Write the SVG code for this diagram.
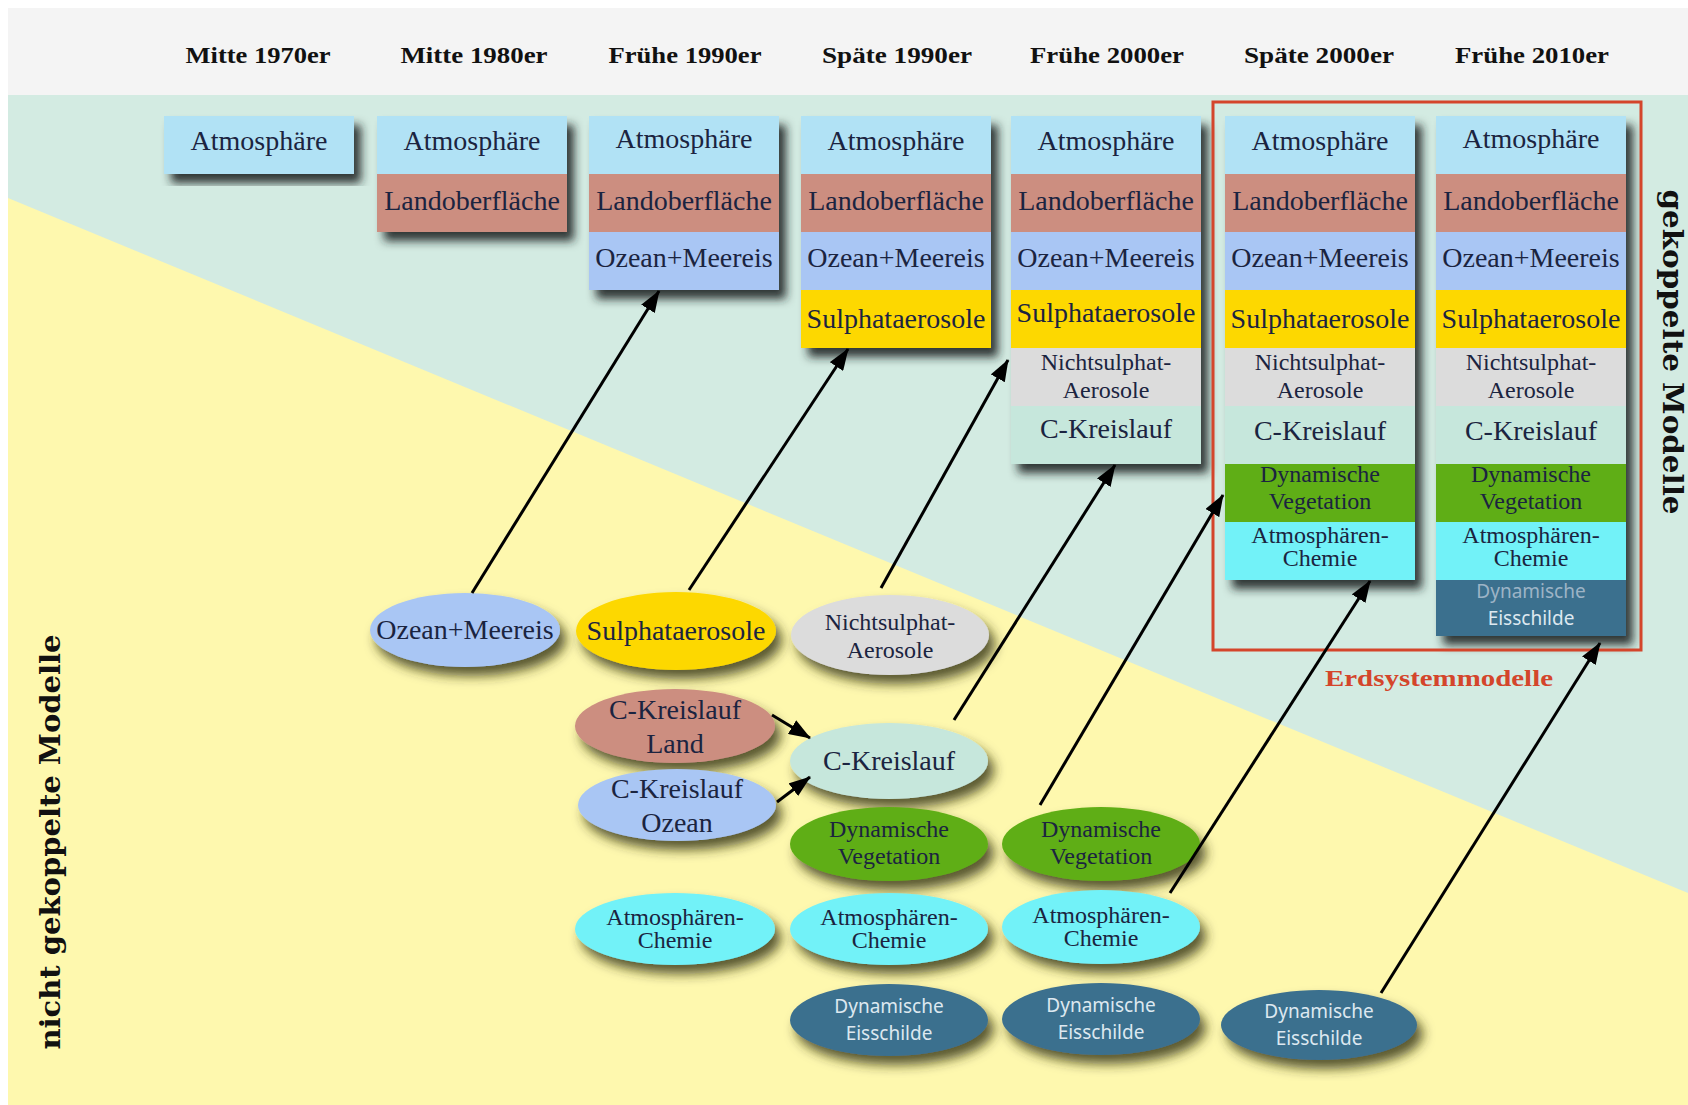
<svg xmlns="http://www.w3.org/2000/svg" width="1688" height="1105" viewBox="0 0 1688 1105">
<style>
.t{font-family:"Liberation Serif","Times New Roman",serif;fill:#1b2440;text-anchor:middle}
.l{font-size:28px}
.m{font-size:24px}
.s{font-size:24px}
.h{font-family:"Liberation Serif","Times New Roman",serif;font-weight:bold;font-size:24px;fill:#111;text-anchor:middle}
.v{font-family:"DejaVu Serif","Liberation Serif",serif;font-weight:bold;font-size:27px;fill:#111;text-anchor:middle}
.e{font-family:"Noto Sans","Liberation Sans",sans-serif;font-size:19px;fill:#dde8f0;text-anchor:middle}
.ef{fill:#9db4c6}
.atm{fill:#b1e2f5}.land{fill:#cc8e80}.oz{fill:#a9c6f4}.sul{fill:#fdd800}.nic{fill:#dcdcdc}
.ck{fill:#c6e7dc}.veg{fill:#5fae14}.chem{fill:#72f2f8}.eis{fill:#3b6f8e}
.col{filter:url(#sh)}
.ell{filter:url(#esh)}
.arr{stroke:#000;stroke-width:3;fill:none;marker-end:url(#ah)}
</style>
<defs>
<filter id="sh" x="-20%" y="-20%" width="140%" height="140%">
<feDropShadow dx="7" dy="9" stdDeviation="5" flood-color="#1a2020" flood-opacity="0.9"/>
</filter>
<filter id="esh" x="-20%" y="-30%" width="140%" height="160%">
<feDropShadow dx="6" dy="9" stdDeviation="6" flood-color="#2e2e0e" flood-opacity="0.8"/>
</filter>
<marker id="ah" markerWidth="22" markerHeight="16" refX="21" refY="8" orient="auto" markerUnits="userSpaceOnUse">
<path d="M0,0 L22,8 L0,16 z" fill="#000"/>
</marker>
</defs>

<rect x="0" y="0" width="1688" height="1105" fill="#ffffff"/>
<rect x="8" y="8" width="1680" height="87" fill="#f4f4f4"/>
<rect x="8" y="95" width="1680" height="1010" fill="#d3ebe2"/>
<polygon points="8,198 1688,893 1688,1105 8,1105" fill="#fef8ae"/>

<g id="headers">
<text class="h" x="258" y="63" textLength="145" lengthAdjust="spacingAndGlyphs">Mitte 1970er</text>
<text class="h" x="474" y="63" textLength="147" lengthAdjust="spacingAndGlyphs">Mitte 1980er</text>
<text class="h" x="685" y="63" textLength="153" lengthAdjust="spacingAndGlyphs">Frühe 1990er</text>
<text class="h" x="897" y="63" textLength="150" lengthAdjust="spacingAndGlyphs">Späte 1990er</text>
<text class="h" x="1107" y="63" textLength="154" lengthAdjust="spacingAndGlyphs">Frühe 2000er</text>
<text class="h" x="1319" y="63" textLength="150" lengthAdjust="spacingAndGlyphs">Späte 2000er</text>
<text class="h" x="1532" y="63" textLength="154" lengthAdjust="spacingAndGlyphs">Frühe 2010er</text>
</g>

<g id="side-labels">
<text class="v" transform="translate(1663,352) rotate(90)" textLength="325" lengthAdjust="spacingAndGlyphs">gekoppelte Modelle</text>
<text class="v" transform="translate(60,842) rotate(-90)" textLength="415" lengthAdjust="spacingAndGlyphs">nicht gekoppelte Modelle</text>
</g>

<g id="col-1970">
<rect class="col atm" x="164" y="116" width="190" height="58"/>
<text class="t l" x="259" y="150">Atmosphäre</text>
</g>

<g id="col-1980">
<g class="col"><rect class="atm" x="377" y="116" width="190" height="58"/><rect class="land" x="377" y="174" width="190" height="58"/></g>
<text class="t l" x="472" y="150">Atmosphäre</text>
<text class="t l" x="472" y="210">Landoberfläche</text>
</g>

<g id="col-1990a">
<g class="col"><rect class="atm" x="589" y="116" width="190" height="58"/><rect class="land" x="589" y="174" width="190" height="58"/><rect class="oz" x="589" y="232" width="190" height="58"/></g>
<text class="t l" x="684" y="148">Atmosphäre</text>
<text class="t l" x="684" y="210">Landoberfläche</text>
<text class="t l" x="684" y="267">Ozean+Meereis</text>
</g>

<g id="col-1990b">
<g class="col"><rect class="atm" x="801" y="116" width="190" height="58"/><rect class="land" x="801" y="174" width="190" height="58"/><rect class="oz" x="801" y="232" width="190" height="58"/><rect class="sul" x="801" y="290" width="190" height="58"/></g>
<text class="t l" x="896" y="150">Atmosphäre</text>
<text class="t l" x="896" y="210">Landoberfläche</text>
<text class="t l" x="896" y="267">Ozean+Meereis</text>
<text class="t l" x="896" y="328">Sulphataerosole</text>
</g>

<g id="col-2000a">
<g class="col"><rect class="atm" x="1011" y="116" width="190" height="58"/><rect class="land" x="1011" y="174" width="190" height="58"/><rect class="oz" x="1011" y="232" width="190" height="58"/><rect class="sul" x="1011" y="290" width="190" height="58"/><rect class="nic" x="1011" y="348" width="190" height="58"/><rect class="ck" x="1011" y="406" width="190" height="58"/></g>
<text class="t l" x="1106" y="150">Atmosphäre</text>
<text class="t l" x="1106" y="210">Landoberfläche</text>
<text class="t l" x="1106" y="267">Ozean+Meereis</text>
<text class="t l" x="1106" y="322">Sulphataerosole</text>
<text class="t m" x="1106" y="370">Nichtsulphat-</text>
<text class="t m" x="1106" y="398">Aerosole</text>
<text class="t l" x="1106" y="438">C-Kreislauf</text>
</g>

<g id="col-2000b">
<g class="col"><rect class="atm" x="1225" y="116" width="190" height="58"/><rect class="land" x="1225" y="174" width="190" height="58"/><rect class="oz" x="1225" y="232" width="190" height="58"/><rect class="sul" x="1225" y="290" width="190" height="58"/><rect class="nic" x="1225" y="348" width="190" height="58"/><rect class="ck" x="1225" y="406" width="190" height="58"/><rect class="veg" x="1225" y="464" width="190" height="58"/><rect class="chem" x="1225" y="522" width="190" height="58"/></g>
<text class="t l" x="1320" y="150">Atmosphäre</text>
<text class="t l" x="1320" y="210">Landoberfläche</text>
<text class="t l" x="1320" y="267">Ozean+Meereis</text>
<text class="t l" x="1320" y="328">Sulphataerosole</text>
<text class="t m" x="1320" y="370">Nichtsulphat-</text>
<text class="t m" x="1320" y="398">Aerosole</text>
<text class="t l" x="1320" y="440">C-Kreislauf</text>
<text class="t s" x="1320" y="482">Dynamische</text>
<text class="t s" x="1320" y="509">Vegetation</text>
<text class="t s" x="1320" y="543">Atmosphären-</text>
<text class="t s" x="1320" y="566">Chemie</text>
</g>

<g id="col-2010">
<g class="col"><rect class="atm" x="1436" y="116" width="190" height="58"/><rect class="land" x="1436" y="174" width="190" height="58"/><rect class="oz" x="1436" y="232" width="190" height="58"/><rect class="sul" x="1436" y="290" width="190" height="58"/><rect class="nic" x="1436" y="348" width="190" height="58"/><rect class="ck" x="1436" y="406" width="190" height="58"/><rect class="veg" x="1436" y="464" width="190" height="58"/><rect class="chem" x="1436" y="522" width="190" height="58"/><rect class="eis" x="1436" y="580" width="190" height="56"/></g>
<text class="t l" x="1531" y="148">Atmosphäre</text>
<text class="t l" x="1531" y="210">Landoberfläche</text>
<text class="t l" x="1531" y="267">Ozean+Meereis</text>
<text class="t l" x="1531" y="328">Sulphataerosole</text>
<text class="t m" x="1531" y="370">Nichtsulphat-</text>
<text class="t m" x="1531" y="398">Aerosole</text>
<text class="t l" x="1531" y="440">C-Kreislauf</text>
<text class="t s" x="1531" y="482">Dynamische</text>
<text class="t s" x="1531" y="509">Vegetation</text>
<text class="t s" x="1531" y="543">Atmosphären-</text>
<text class="t s" x="1531" y="566">Chemie</text>
<text class="e ef" x="1531" y="598">Dynamische</text>
<text class="e" x="1531" y="625">Eisschilde</text>
</g>

<g id="erdsystemmodelle">
<rect x="1213" y="102" width="428" height="548" fill="none" stroke="#d4452b" stroke-width="3"/>
<text x="1439" y="686" font-family="Liberation Serif, serif" font-weight="bold" font-size="24" fill="#d4452b" text-anchor="middle" textLength="228" lengthAdjust="spacingAndGlyphs">Erdsystemmodelle</text>
</g>

<g id="e-ozean">
<ellipse class="ell oz" cx="465" cy="630" rx="95" ry="37"/>
<text class="t l" x="465" y="639">Ozean+Meereis</text>
</g>
<g id="e-sulphat">
<ellipse class="ell sul" cx="676" cy="631" rx="100" ry="39"/>
<text class="t l" x="676" y="640">Sulphataerosole</text>
</g>
<g id="e-nichtsulphat">
<ellipse class="ell nic" cx="890" cy="635" rx="99" ry="40"/>
<text class="t m" x="890" y="630">Nichtsulphat-</text>
<text class="t m" x="890" y="658">Aerosole</text>
</g>
<g id="e-ck-land">
<ellipse class="ell land" cx="675" cy="726" rx="100" ry="37"/>
<text class="t l" x="675" y="719">C-Kreislauf</text>
<text class="t l" x="675" y="753">Land</text>
</g>
<g id="e-ck-ozean">
<ellipse class="ell oz" cx="677" cy="805" rx="99" ry="36"/>
<text class="t l" x="677" y="798">C-Kreislauf</text>
<text class="t l" x="677" y="832">Ozean</text>
</g>
<g id="e-ck">
<ellipse class="ell ck" cx="889" cy="761" rx="99" ry="38"/>
<text class="t l" x="889" y="770">C-Kreislauf</text>
</g>
<g id="e-veg-1">
<ellipse class="ell veg" cx="889" cy="844" rx="99" ry="37"/>
<text class="t s" x="889" y="837">Dynamische</text>
<text class="t s" x="889" y="864">Vegetation</text>
</g>
<g id="e-veg-2">
<ellipse class="ell veg" cx="1101" cy="844" rx="99" ry="37"/>
<text class="t s" x="1101" y="837">Dynamische</text>
<text class="t s" x="1101" y="864">Vegetation</text>
</g>
<g id="e-chem-1">
<ellipse class="ell chem" cx="675" cy="929" rx="100" ry="36"/>
<text class="t s" x="675" y="925">Atmosphären-</text>
<text class="t s" x="675" y="948">Chemie</text>
</g>
<g id="e-chem-2">
<ellipse class="ell chem" cx="889" cy="929" rx="99" ry="36"/>
<text class="t s" x="889" y="925">Atmosphären-</text>
<text class="t s" x="889" y="948">Chemie</text>
</g>
<g id="e-chem-3">
<ellipse class="ell chem" cx="1101" cy="927" rx="99" ry="37"/>
<text class="t s" x="1101" y="923">Atmosphären-</text>
<text class="t s" x="1101" y="946">Chemie</text>
</g>
<g id="e-eis-1">
<ellipse class="ell eis" cx="889" cy="1020" rx="99" ry="36"/>
<text class="e" x="889" y="1013">Dynamische</text>
<text class="e" x="889" y="1040">Eisschilde</text>
</g>
<g id="e-eis-2">
<ellipse class="ell eis" cx="1101" cy="1019" rx="99" ry="36"/>
<text class="e" x="1101" y="1012">Dynamische</text>
<text class="e" x="1101" y="1039">Eisschilde</text>
</g>
<g id="e-eis-3">
<ellipse class="ell eis" cx="1319" cy="1025" rx="98" ry="35"/>
<text class="e" x="1319" y="1018">Dynamische</text>
<text class="e" x="1319" y="1045">Eisschilde</text>
</g>

<g id="connectors">
<line class="arr" x1="472" y1="593" x2="659" y2="291"/>
<line class="arr" x1="689" y1="590" x2="848" y2="349"/>
<line class="arr" x1="881" y1="588" x2="1008" y2="360"/>
<line class="arr" x1="954" y1="720" x2="1115" y2="465"/>
<line class="arr" x1="1040" y1="805" x2="1223" y2="495"/>
<line class="arr" x1="1170" y1="893" x2="1370" y2="581"/>
<line class="arr" x1="1381" y1="993" x2="1600" y2="643"/>
<line class="arr" x1="772" y1="715" x2="810" y2="738"/>
<line class="arr" x1="777" y1="802" x2="810" y2="777"/>
</g>
</svg>
